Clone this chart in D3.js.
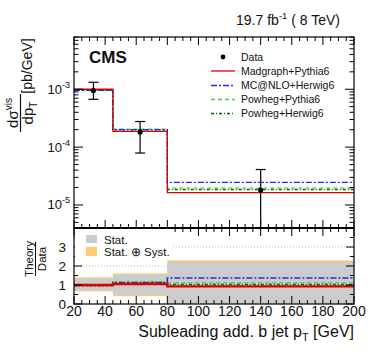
<!DOCTYPE html>
<html>
<head>
<meta charset="utf-8">
<script src="https://cdn.jsdelivr.net/npm/d3@7"></script>
<style>
  body { margin: 0; background: #fff; }
  svg { display: block; font-family: "Liberation Sans", Arial, sans-serif; }
</style>
</head>
<body>
<svg width="373" height="358"></svg>
<script>
// bins of subleading additional b jet pT (GeV)
var binEdges = [20, 45, 80, 200];

// measured cross section [pb/GeV]
var dataVal = [9.5e-4, 1.83e-4, 1.81e-5];
var dataHi = [1.32e-3, 2.77e-4, 4.1e-5];
var dataLo = [6.7e-4, 7.9e-5, 1e-7];

// theory predictions [pb/GeV]
var madgraph = [1.0e-3, 1.87e-4, 1.63e-5];
var mcatnlo = [9.6e-4, 2.0e-4, 2.45e-5];
var powhegPythia = [9.5e-4, 2.05e-4, 1.95e-5];
var powhegHerwig = [9.6e-4, 1.98e-4, 1.85e-5];

// theory / data
var ratioMadgraph = [1.0, 1.05, 0.93];
var ratioMcatnlo = [0.97, 1.12, 1.37];
var ratioPowhegPythia = [0.97, 1.16, 1.1];
var ratioPowhegHerwig = [0.98, 1.14, 1.03];
var statLo = [0.71, 0.47, 0], statHi = [1.35, 1.56, 2.22];
var totLo = [0.67, 0.41, 0], totHi = [1.4, 1.61, 2.3];

var logTicks = [1e-5, 1e-4, 1e-3];
var logLabels = ["-5", "-4", "-3"];
var ratioTicks = [0, 1, 2, 3];

var svg = d3.select("svg"),
    left = 74, right = 354, padTop = 37, split = 228, bottom = 304;

var x = d3.scaleLinear().domain([20, 200]).range([left, right]);
var y = d3.scaleLog().domain([4e-6, 8e-3]).range([split, padTop]);
var yr = d3.scaleLinear().domain([0, 4]).range([bottom, split]);

var models = [
  {name: "Madgraph+Pythia6", vals: madgraph, ratio: ratioMadgraph, color: "#dd0000", dash: null},
  {name: "MC@NLO+Herwig6", vals: mcatnlo, ratio: ratioMcatnlo, color: "#2222ff", dash: "6,2,2,2"},
  {name: "Powheg+Pythia6", vals: powhegPythia, ratio: ratioPowhegPythia, color: "#33dd33", dash: "4,3"},
  {name: "Powheg+Herwig6", vals: powhegHerwig, ratio: ratioPowhegHerwig, color: "#006600", dash: "3,2,1,2"}
];

var defs = svg.append("defs");
defs.append("clipPath").attr("id", "clipUp").append("rect")
  .attr("x", left).attr("y", padTop).attr("width", right - left).attr("height", split - padTop);
defs.append("clipPath").attr("id", "clipLo").append("rect")
  .attr("x", left).attr("y", split).attr("width", right - left).attr("height", bottom - split);

function stepPoints(vals, scale) {
  var pts = [];
  vals.forEach(function(v, i) {
    pts.push([x(binEdges[i]), scale(v)]);
    pts.push([x(binEdges[i + 1]), scale(v)]);
  });
  return pts;
}
var line = d3.line();

// ---------- upper pad ----------
var up = svg.append("g").attr("clip-path", "url(#clipUp)");

models.slice().reverse().forEach(function(m) {
  up.append("path")
    .attr("d", line(stepPoints(m.vals, y)))
    .attr("fill", "none")
    .attr("stroke", m.color)
    .attr("stroke-width", 1.3)
    .attr("stroke-dasharray", m.dash);
});

var centers = binEdges.slice(0, -1).map(function(e, i) { return (e + binEdges[i + 1]) / 2; });

var pts = up.selectAll("g.pt").data(dataVal).enter().append("g").attr("class", "pt");
pts.append("line")
  .attr("x1", function(d, i) { return x(centers[i]); })
  .attr("x2", function(d, i) { return x(centers[i]); })
  .attr("y1", function(d, i) { return y(dataHi[i]); })
  .attr("y2", function(d, i) { return y(dataLo[i]); })
  .attr("stroke", "#000").attr("stroke-width", 1.2);
[dataHi, dataLo].forEach(function(arr) {
  pts.append("line")
    .attr("x1", function(d, i) { return x(centers[i]) - 5; })
    .attr("x2", function(d, i) { return x(centers[i]) + 5; })
    .attr("y1", function(d, i) { return y(arr[i]); })
    .attr("y2", function(d, i) { return y(arr[i]); })
    .attr("stroke", "#000").attr("stroke-width", 1.2);
});
pts.append("circle")
  .attr("cx", function(d, i) { return x(centers[i]); })
  .attr("cy", function(d) { return y(d); })
  .attr("r", 2.6).attr("fill", "#000");

// ---------- lower pad ----------
var lo = svg.append("g").attr("clip-path", "url(#clipLo)");

lo.selectAll("line.grid").data(ratioTicks.slice(1)).enter().append("line")
  .attr("x1", left).attr("x2", right)
  .attr("y1", function(d) { return yr(d); }).attr("y2", function(d) { return yr(d); })
  .attr("stroke", "#bbb").attr("stroke-width", 1).attr("stroke-dasharray", "1,2");

function bands(lows, highs, color) {
  lo.append("g").selectAll("rect").data(lows).enter().append("rect")
    .attr("x", function(d, i) { return x(binEdges[i]); })
    .attr("width", function(d, i) { return x(binEdges[i + 1]) - x(binEdges[i]); })
    .attr("y", function(d, i) { return yr(highs[i]); })
    .attr("height", function(d, i) { return yr(lows[i]) - yr(highs[i]); })
    .attr("fill", color);
}
bands(totLo, totHi, "#ffcc70");
bands(statLo, statHi, "#cccccc");

models.slice().reverse().forEach(function(m) {
  lo.append("path")
    .attr("d", line(stepPoints(m.ratio, yr)))
    .attr("fill", "none")
    .attr("stroke", m.color)
    .attr("stroke-width", m.name === "Madgraph+Pythia6" ? 2.4 : 1.5)
    .attr("stroke-dasharray", m.dash);
});

// ---------- axes ----------
function xAxes(yPos, sign) {
  var major = d3.range(20, 201, 20), minor = d3.range(20, 201, 5);
  var g = svg.append("g");
  g.selectAll("line.mi").data(minor).enter().append("line")
    .attr("x1", x).attr("x2", x)
    .attr("y1", yPos).attr("y2", function(d) { return yPos + sign * (major.indexOf(d) >= 0 ? 8 : 4); })
    .attr("stroke", "#000").attr("stroke-width", 1);
}
xAxes(split, -1);
xAxes(padTop, 1);
xAxes(bottom, -1);
xAxes(split, 1);

var minorLog = [];
[1e-6, 1e-5, 1e-4, 1e-3].forEach(function(dec) {
  for (var k = 1; k < 10; k++) {
    var v = dec * k;
    if (v >= 4e-6 && v <= 8e-3) minorLog.push(v);
  }
});
[[left, 1], [right, -1]].forEach(function(s) {
  svg.append("g").selectAll("line").data(minorLog).enter().append("line")
    .attr("x1", s[0])
    .attr("x2", function(d) { return s[0] + s[1] * (logTicks.indexOf(d) >= 0 ? 9 : 4.5); })
    .attr("y1", y).attr("y2", y)
    .attr("stroke", "#000").attr("stroke-width", 1);
  svg.append("g").selectAll("line").data(d3.range(0, 4.01, 0.5)).enter().append("line")
    .attr("x1", s[0])
    .attr("x2", function(d) { return s[0] + s[1] * (d % 1 === 0 ? 8 : 4); })
    .attr("y1", yr).attr("y2", yr)
    .attr("stroke", "#000").attr("stroke-width", 1);
});

svg.append("rect").attr("x", left).attr("y", padTop).attr("width", right - left).attr("height", split - padTop)
  .attr("fill", "none").attr("stroke", "#000").attr("stroke-width", 1.2);
svg.append("rect").attr("x", left).attr("y", split).attr("width", right - left).attr("height", bottom - split)
  .attr("fill", "none").attr("stroke", "#000").attr("stroke-width", 1.2);
svg.append("line").attr("x1", left).attr("x2", right).attr("y1", split).attr("y2", split)
  .attr("stroke", "#000").attr("stroke-width", 1.8);

// log tick labels
var lt = svg.append("g").selectAll("text").data(logTicks).enter().append("text")
  .attr("x", left - 4).attr("y", function(d) { return y(d) + 4.5; })
  .attr("text-anchor", "end").attr("font-size", 13).attr("fill", "#111");
lt.append("tspan").text("10");
lt.append("tspan").attr("font-size", 9).attr("dy", -6).text(function(d, i) { return logLabels[i]; });

// ratio tick labels
svg.append("g").selectAll("text").data(ratioTicks).enter().append("text")
  .attr("x", left - 8).attr("y", function(d) { return yr(d); }).attr("dy", "0.36em")
  .attr("text-anchor", "end").attr("font-size", 13.5).attr("fill", "#111")
  .text(function(d) { return d; });

// x tick labels
svg.append("g").selectAll("text").data(d3.range(20, 201, 20)).enter().append("text")
  .attr("x", x).attr("y", bottom + 12).attr("text-anchor", "middle")
  .attr("font-size", 14).attr("fill", "#111").text(function(d) { return d; });

// x title
var xt = svg.append("text").attr("x", right).attr("y", 337).attr("text-anchor", "end")
  .attr("font-size", 16).attr("fill", "#111");
xt.append("tspan").text("Subleading add. b jet p");
xt.append("tspan").attr("font-size", 11).attr("dy", 4).text("T");
xt.append("tspan").attr("dy", -4).text(" [GeV]");

// upper y title (rotated)
var yt = svg.append("g").attr("transform", "rotate(-90)").attr("fill", "#111");
var num = yt.append("text").attr("x", -113).attr("y", 18).attr("text-anchor", "middle").attr("font-size", 15);
num.append("tspan").text("d\u03c3");
num.append("tspan").attr("font-size", 10).attr("dy", -6).text("vis");
yt.append("line").attr("x1", -132).attr("x2", -94).attr("y1", 20.5).attr("y2", 20.5)
  .attr("stroke", "#111").attr("stroke-width", 1.2);
var den = yt.append("text").attr("x", -113).attr("y", 33).attr("text-anchor", "middle").attr("font-size", 15);
den.append("tspan").text("dp");
den.append("tspan").attr("font-size", 10).attr("dy", 4).text("T");
yt.append("text").attr("x", -66).attr("y", 32).attr("text-anchor", "middle").attr("font-size", 14)
  .text("[pb/GeV]");

// ratio y title
var rt = svg.append("g").attr("transform", "rotate(-90)").attr("fill", "#111");
rt.append("text").attr("x", -259).attr("y", 33).attr("text-anchor", "middle").attr("font-size", 11.5).text("Theory");
rt.append("line").attr("x1", -276).attr("x2", -242).attr("y1", 35.5).attr("y2", 35.5)
  .attr("stroke", "#111").attr("stroke-width", 1);
rt.append("text").attr("x", -259).attr("y", 46).attr("text-anchor", "middle").attr("font-size", 11.5).text("Data");

// header
var hd = svg.append("text").attr("x", 340).attr("y", 25).attr("text-anchor", "end")
  .attr("font-size", 14).attr("fill", "#111");
hd.append("tspan").text("19.7 fb");
hd.append("tspan").attr("font-size", 9.5).attr("dy", -6).text("-1");
hd.append("tspan").attr("dy", 6).text(" ( 8 TeV)");

svg.append("text").attr("x", 89).attr("y", 63).attr("font-size", 17).attr("font-weight", "bold")
  .attr("fill", "#111").text("CMS");

// upper legend
var legRows = [57, 71, 85.5, 99.5, 113.5];
var leg = svg.append("g").attr("font-size", 10.5).attr("fill", "#111");
leg.append("circle").attr("cx", 223).attr("cy", legRows[0]).attr("r", 2.4).attr("fill", "#000");
leg.append("text").attr("x", 241).attr("y", legRows[0]).attr("dy", "0.35em").text("Data");
models.forEach(function(m, i) {
  leg.append("line").attr("x1", 211).attr("x2", 235)
    .attr("y1", legRows[i + 1]).attr("y2", legRows[i + 1])
    .attr("stroke", m.color).attr("stroke-width", 1.3).attr("stroke-dasharray", m.dash);
  leg.append("text").attr("x", 241).attr("y", legRows[i + 1]).attr("dy", "0.35em").text(m.name);
});

// ratio legend
var rl = svg.append("g").attr("font-size", 11.5).attr("fill", "#111");
rl.append("rect").attr("x", 75).attr("y", 229).attr("width", 97).attr("height", 30).attr("fill", "#fff");
rl.append("rect").attr("x", 86).attr("y", 235).attr("width", 11).attr("height", 8).attr("fill", "#cccccc");
rl.append("rect").attr("x", 86).attr("y", 247).attr("width", 11).attr("height", 9).attr("fill", "#ffcc70");
rl.append("text").attr("x", 104).attr("y", 239.5).attr("dy", "0.35em").text("Stat.");
rl.append("text").attr("x", 104).attr("y", 252).attr("dy", "0.35em").text("Stat. \u2295 Syst.");
</script>
</body>
</html>
